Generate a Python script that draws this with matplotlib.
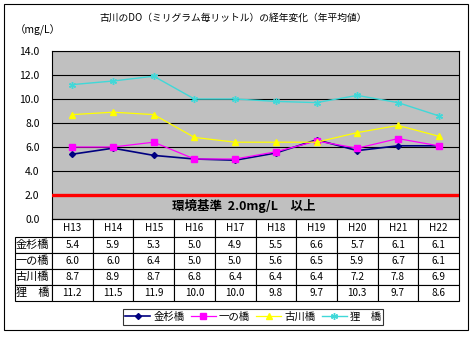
import matplotlib.pyplot as plt
from matplotlib.patches import Rectangle
from matplotlib.lines import Line2D

plt.rcParams['font.family'] = ['Noto Sans CJK JP', 'DejaVu Sans']

# datos
anios = ['H13', 'H14', 'H15', 'H16', 'H17', 'H18', 'H19', 'H20', 'H21', 'H22']
nombres = ['金杉橋', '一の橋', '古川橋', '狸　橋']
kanasugi = [5.4, 5.9, 5.3, 5.0, 4.9, 5.5, 6.6, 5.7, 6.1, 6.1]
ichinohashi = [6.0, 6.0, 6.4, 5.0, 5.0, 5.6, 6.5, 5.9, 6.7, 6.1]
furukawa = [8.7, 8.9, 8.7, 6.8, 6.4, 6.4, 6.4, 7.2, 7.8, 6.9]
tanuki = [11.2, 11.5, 11.9, 10.0, 10.0, 9.8, 9.7, 10.3, 9.7, 8.6]
norma = 2.0

W, H = 473, 345
fig = plt.figure(figsize=(W / 100, H / 100), dpi=100)
fig.patch.set_facecolor('white')

# marco exterior
fig.patches.append(Rectangle((4 / W, 1 - 330 / H), 464 / W, 326 / H, transform=fig.transFigure,
                             fill=False, edgecolor='black', linewidth=0.8))

ax = fig.add_axes([52 / W, 1 - 219 / H, 407 / W, 168 / H])
ax.set_facecolor('#C0C0C0')

x = list(range(len(anios)))
series = [
    (kanasugi, '#000080', 'D', 3.0, 1.2),
    (ichinohashi, '#FF00FF', 's', 4.0, 0.9),
    (furukawa, '#FFFF00', '^', 4.0, 0.9),
    (tanuki, '#40D8D8', (6, 2, 0), 5.0, 1.0),
]
handles = []
for (vals, col, mk, ms, lw), nom in zip(series, nombres):
    ax.plot(x, vals, color=col, marker=mk, markersize=ms, linewidth=lw,
            markeredgecolor=col, markerfacecolor=col, markeredgewidth=1.0, zorder=3)
    handles.append(Line2D([], [], color=col, marker=mk, markersize=ms, linewidth=lw,
                          markeredgecolor=col, markerfacecolor=col, label=nom))

# linea del estandar
ax.axhline(norma, color='#FF0000', linewidth=2.4, zorder=4)
ax.text(4.2, 1.05, '環境基準  2.0mg/L　以上', ha='center', va='center',
        fontsize=9, fontweight='bold', color='black')

ax.set_xlim(-0.5, 9.5)
ax.set_ylim(0, 14)
ax.set_yticks([0, 2, 4, 6, 8, 10, 12, 14])
ax.set_yticklabels(['%.1f' % v for v in [0, 2, 4, 6, 8, 10, 12, 14]], fontsize=7.5)
ax.tick_params(axis='y', length=0, pad=9)
ax.set_xticks([])
ax.grid(axis='y', color='black', linewidth=0.8)
ax.set_axisbelow(True)
for s in ax.spines.values():
    s.set_color('black')
    s.set_linewidth(0.8)

# tabla de datos (la primera columna lleva los nombres)
texto = [[nom] + ['%.1f' % v for v in fila]
         for nom, fila in zip(nombres, [kanasugi, ichinohashi, furukawa, tanuki])]
tabla = ax.table(cellText=texto, colLabels=[''] + anios,
                 colWidths=[37] + [40.7] * 10, cellLoc='center',
                 bbox=[-37 / 407, -82 / 168, 444 / 407, 82 / 168])
tabla.auto_set_font_size(False)
tabla.set_fontsize(7.2)
for (r, c), celda in tabla.get_celld().items():
    celda.set_linewidth(0.8)
    celda.set_edgecolor('black')
    celda.set_height(18 if r == 0 else 16)
    if c == 0:
        celda.get_text().set_ha('left')
        celda.get_text().set_fontsize(8)
        celda._loc = 'left'
        celda.PAD = 0.02
    if r == 0 and c == 0:
        celda.visible_edges = ''

# leyenda
leg = fig.legend(handles=handles, loc='center', bbox_to_anchor=(253 / W, 1 - 317 / H),
                 ncol=4, fontsize=7.5, frameon=True, fancybox=False, handlelength=2.4,
                 columnspacing=0.6, handletextpad=0.3, borderpad=0.25, borderaxespad=0)
leg.get_frame().set_edgecolor('black')
leg.get_frame().set_linewidth(0.8)

fig.text(233 / W, 1 - 18 / H, '古川のDO（ミリグラム毎リットル）の経年変化（年平均値）',
         ha='center', va='center', fontsize=7)
fig.text(15 / W, 1 - 30 / H, '（mg/L）', ha='left', va='center', fontsize=7.5)

fig.savefig('out.png', dpi=100)
